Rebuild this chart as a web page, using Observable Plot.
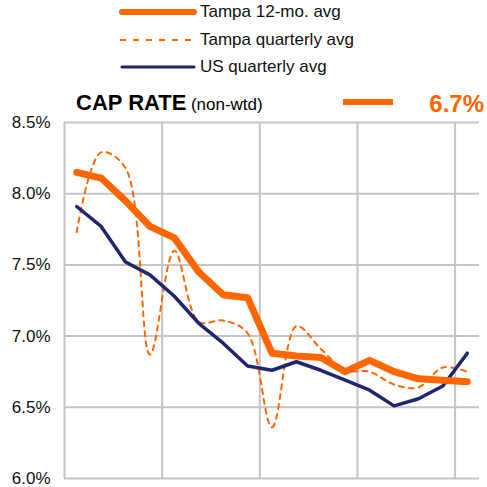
<!DOCTYPE html>
<html>
<head>
<meta charset="utf-8">
<script src="https://cdn.jsdelivr.net/npm/d3@7"></script>
<script src="https://cdn.jsdelivr.net/npm/@observablehq/plot@0.6"></script>
<style>
  html, body { margin: 0; padding: 0; background: #fff; }
  #wrap { position: relative; width: 487px; height: 487px; font-family: "Liberation Sans", Arial, sans-serif; }
  #chart { position: absolute; left: 0; top: 0; }
  .leg { position: absolute; left: 118px; display: flex; align-items: center; font-size: 17px; color: #111; height: 24px; }
  .leg svg { margin-right: 2px; }
  #title { position: absolute; left: 76px; top: 90px; white-space: nowrap; color: #000; }
  #title b { font-size: 22px; font-weight: bold; }
  #title span { font-size: 17px; }
  #kpi { position: absolute; right: 3px; top: 90px; font-size: 24px; font-weight: bold; color: #ff6600; }
  #kpiline { position: absolute; left: 343px; top: 99px; width: 50px; height: 6px; background: #ff6600; }
</style>
</head>
<body>
<div id="wrap">
  <div id="chart"></div>
  <div class="leg" style="top:0px"><svg width="80" height="10"><line x1="4" y1="5" x2="76" y2="5" stroke="#ff6600" stroke-width="6" stroke-linecap="round"/></svg>Tampa 12-mo. avg</div>
  <div class="leg" style="top:28px"><svg width="80" height="10"><line x1="2" y1="5" x2="78" y2="5" stroke="#ff6600" stroke-width="2.2" stroke-dasharray="6,7"/></svg>Tampa quarterly avg</div>
  <div class="leg" style="top:55px"><svg width="80" height="10"><line x1="4" y1="5" x2="76" y2="5" stroke="#1f2670" stroke-width="3.2" stroke-linecap="round"/></svg>US quarterly avg</div>
  <div id="title"><b>CAP RATE</b> <span>(non-wtd)</span></div>
  <div id="kpiline"></div>
  <div id="kpi">6.7%</div>
</div>
<script>
const quarter = [0, 1, 2, 3, 4, 5, 6, 7, 8, 9, 10, 11, 12, 13, 14, 15, 16];
const tampa12mo = [8.15, 8.11, 7.95, 7.77, 7.69, 7.45, 7.29, 7.27, 6.88, 6.86, 6.85, 6.75, 6.83, 6.75, 6.70, 6.69, 6.68];
const tampaQuarterly = [7.73, 8.29, 8.18, 6.87, 7.60, 7.10, 7.11, 7.02, 6.36, 7.07, 6.91, 6.76, 6.75, 6.66, 6.64, 6.78, 6.75];
const usQuarterly = [7.91, 7.77, 7.52, 7.43, 7.28, 7.09, 6.95, 6.79, 6.76, 6.82, 6.76, 6.69, 6.62, 6.51, 6.56, 6.65, 6.88];
const yTicks = [6.0, 6.5, 7.0, 7.5, 8.0, 8.5];
const yearBreaks = [-0.5, 3.5, 7.5, 11.5, 15.5];

const rows = quarter.map((q, i) => ({q, t12: tampa12mo[i], tq: tampaQuarterly[i], us: usQuarterly[i]}));

const chart = Plot.plot({
  width: 487,
  height: 487,
  marginLeft: 64,
  marginRight: 8,
  marginTop: 122,
  marginBottom: 9,
  style: {fontFamily: "'Liberation Sans', Arial, sans-serif", fontSize: "17px", color: "#111", background: "#fff"},
  x: {domain: [-0.5, 16.5], axis: null},
  y: {domain: [6, 8.5], ticks: yTicks, tickFormat: d => d.toFixed(1) + "%", tickSize: 0, tickPadding: 14, label: null},
  marks: [
    Plot.ruleY(yTicks, {stroke: "#c4c4c4", strokeWidth: 2}),
    Plot.ruleX(yearBreaks, {y1: 6, y2: 8.5, stroke: "#c4c4c4", strokeWidth: 2}),
    Plot.axisY({ticks: yTicks, tickFormat: d => d.toFixed(1) + "%", tickSize: 0, tickPadding: 14, label: null, fontSize: 17}),
    Plot.line(rows, {x: "q", y: "tq", stroke: "#ff6600", strokeWidth: 2, strokeDasharray: "5,5", curve: "catmull-rom"}),
    Plot.line(rows, {x: "q", y: "us", stroke: "#1f2670", strokeWidth: 3.5, strokeLinejoin: "round", strokeLinecap: "round"}),
    Plot.line(rows, {x: "q", y: "t12", stroke: "#ff6600", strokeWidth: 7, strokeLinejoin: "round", strokeLinecap: "round"})
  ]
});
document.getElementById("chart").appendChild(chart);
</script>
</body>
</html>
